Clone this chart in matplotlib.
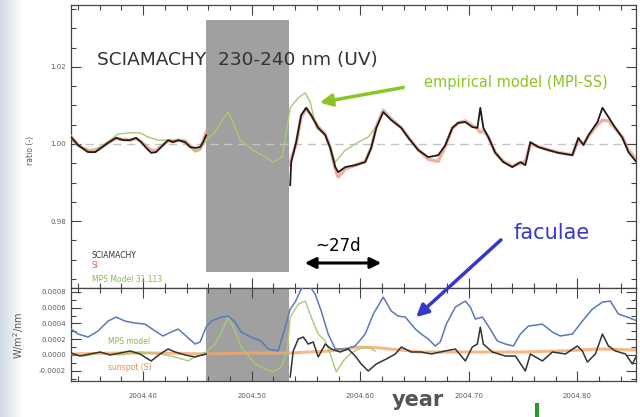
import matplotlib.pyplot as plt
import matplotlib.patches as mpatches
from matplotlib.ticker import MultipleLocator
import numpy as np

# ---- top panel: irradiance ratio ----
t_sci1 = [2004.3336, 2004.3401, 2004.3493, 2004.3558, 2004.3613, 2004.3677, 2004.3751, 2004.3816,
          2004.3880, 2004.3935, 2004.3982, 2004.4028, 2004.4074, 2004.4120, 2004.4166, 2004.4230,
          2004.4277, 2004.4323, 2004.4387, 2004.4433, 2004.4479, 2004.4525, 2004.4553, 2004.4581]
sci1 = [1.0018, 0.9997, 0.9979, 0.9979, 0.9990, 1.0003, 1.0016, 1.0010,
        1.0010, 1.0016, 1.0005, 0.9990, 0.9977, 0.9979, 0.9992, 1.0010,
        1.0005, 1.0010, 1.0005, 0.9992, 0.9990, 0.9992, 1.0005, 1.0023]
si1 = [1.0020, 0.9997, 0.9981, 0.9980, 0.9990, 1.0003, 1.0014, 1.0012,
       1.0010, 1.0014, 1.0006, 0.9994, 0.9984, 0.9983, 0.9994, 1.0008,
       1.0006, 1.0010, 1.0008, 0.9995, 0.9985, 0.9990, 1.0008, 1.0031]

t_sci2 = [2004.5355, 2004.5364, 2004.5410, 2004.5456, 2004.5502, 2004.5548, 2004.5613, 2004.5678,
          2004.5724, 2004.5770, 2004.5797, 2004.5862, 2004.5954, 2004.6046, 2004.6101, 2004.6148,
          2004.6212, 2004.6286, 2004.6378, 2004.6443, 2004.6535, 2004.6627, 2004.6719, 2004.6784,
          2004.6848, 2004.6903, 2004.6968, 2004.7032, 2004.7079, 2004.7106, 2004.7134, 2004.7180,
          2004.7244, 2004.7318, 2004.7401, 2004.7475, 2004.7521, 2004.7567, 2004.7641, 2004.7733,
          2004.7825, 2004.7954, 2004.8009, 2004.8056, 2004.8102, 2004.8185, 2004.8231, 2004.8286,
          2004.8350, 2004.8415, 2004.8470, 2004.8544]
sci2 = [0.9893, 0.9953, 1.0005, 1.0075, 1.0094, 1.0075, 1.0042, 1.0023,
        0.9990, 0.9940, 0.9927, 0.9940, 0.9945, 0.9953, 0.9990, 1.0042,
        1.0083, 1.0062, 1.0042, 1.0016, 0.9984, 0.9966, 0.9971, 0.9997,
        1.0042, 1.0055, 1.0057, 1.0044, 1.0042, 1.0094, 1.0042, 1.0018,
        0.9977, 0.9953, 0.9940, 0.9953, 0.9945, 1.0005, 0.9992, 0.9984,
        0.9977, 0.9971, 1.0016, 0.9997, 1.0023, 1.0057, 1.0094, 1.0070,
        1.0042, 1.0016, 0.9979, 0.9953]
si2 = [0.9945, 0.9960, 1.0000, 1.0070, 1.0092, 1.0075, 1.0045, 1.0025,
       0.9990, 0.9935, 0.9914, 0.9935, 0.9945, 0.9955, 0.9990, 1.0045,
       1.0088, 1.0065, 1.0042, 1.0018, 0.9985, 0.9960, 0.9955, 0.9995,
       1.0040, 1.0055, 1.0060, 1.0048, 1.0040, 1.0030, 1.0035, 1.0018,
       0.9978, 0.9955, 0.9942, 0.9950, 0.9955, 1.0000, 0.9993, 0.9985,
       0.9978, 0.9972, 1.0010, 1.0000, 1.0020, 1.0050, 1.0062, 1.0060,
       1.0040, 1.0018, 0.9985, 0.9960]

t_mps = [2004.3336, 2004.3419, 2004.3512, 2004.3604, 2004.3696, 2004.3770, 2004.3880, 2004.3972,
         2004.4046, 2004.4138, 2004.4230, 2004.4323, 2004.4415, 2004.4479, 2004.4525, 2004.4581,
         2004.4664, 2004.4728, 2004.4783, 2004.4839, 2004.4894, 2004.5014, 2004.5106, 2004.5198,
         2004.5281, 2004.5327, 2004.5355, 2004.5429, 2004.5493, 2004.5539, 2004.5595, 2004.5678,
         2004.5770, 2004.5862, 2004.5982, 2004.6074, 2004.6138]
mps = [1.0010, 0.9995, 0.9984, 0.9992, 1.0010, 1.0026, 1.0029, 1.0029,
       1.0018, 1.0010, 1.0010, 1.0010, 0.9997, 0.9979, 0.9984, 1.0010,
       1.0031, 1.0062, 1.0083, 1.0049, 1.0010, 0.9984, 0.9969, 0.9953,
       0.9966, 1.0044, 1.0094, 1.0120, 1.0133, 1.0109, 1.0042, 1.0023,
       0.9953, 0.9984, 1.0005, 1.0018, 1.0042]

# ---- bottom panel: contributions (W/m^2/nm) ----
t_fac = [2004.3336, 2004.3401, 2004.3493, 2004.3585, 2004.3677, 2004.3751, 2004.3834, 2004.3926,
         2004.4018, 2004.4111, 2004.4184, 2004.4258, 2004.4323, 2004.4396, 2004.4479, 2004.4525,
         2004.4581, 2004.4627, 2004.4719, 2004.4783, 2004.4848, 2004.4903, 2004.4995, 2004.5088,
         2004.5152, 2004.5244, 2004.5309, 2004.5355, 2004.5401, 2004.5456, 2004.5521, 2004.5585,
         2004.5641, 2004.5705, 2004.5770, 2004.5862, 2004.5954, 2004.6046, 2004.6120, 2004.6212,
         2004.6286, 2004.6350, 2004.6415, 2004.6507, 2004.6562, 2004.6627, 2004.6691, 2004.6737,
         2004.6793, 2004.6876, 2004.6968, 2004.7014, 2004.7060, 2004.7125, 2004.7180, 2004.7263,
         2004.7337, 2004.7410, 2004.7475, 2004.7549, 2004.7678, 2004.7770, 2004.7843, 2004.7954,
         2004.8046, 2004.8138, 2004.8231, 2004.8304, 2004.8378, 2004.8461, 2004.8553]
fac = [3.29, 2.66, 2.28, 3.04, 4.30, 4.81, 4.30, 4.05,
       3.92, 3.04, 2.41, 2.91, 3.29, 2.41, 1.39, 1.65,
       3.54, 4.30, 4.81, 4.94, 4.18, 2.91, 2.28, 1.77,
       0.76, 0.51, 3.54, 5.82, 6.71, 8.36, 8.99, 7.72,
       5.57, 2.66, 0.76, 0.76, 1.14, 2.66, 5.19, 7.34,
       5.57, 4.94, 4.81, 3.29, 2.66, 2.03, 1.14, 1.65,
       3.92, 6.08, 6.84, 6.08, 4.56, 4.81, 3.67, 1.77,
       1.39, 1.14, 2.66, 3.67, 3.92, 2.91, 2.41, 2.66,
       4.30, 5.82, 6.71, 6.84, 5.19, 4.81, 4.30]

t_tot1 = [2004.3336, 2004.3419, 2004.3512, 2004.3604, 2004.3696, 2004.3788, 2004.3880, 2004.3972,
          2004.4074, 2004.4157, 2004.4230, 2004.4295, 2004.4387, 2004.4479, 2004.4581]
tot1 = [0.25, -0.13, 0.13, 0.38, 0.0, 0.25, 0.51, 0.13,
        -0.76, 0.13, 0.76, 0.38, 0.0, -0.25, 0.13]
t_tot2 = [2004.5355, 2004.5383, 2004.5429, 2004.5475, 2004.5521, 2004.5567, 2004.5613, 2004.5678,
          2004.5733, 2004.5816, 2004.5889, 2004.5954, 2004.6009, 2004.6074, 2004.6148, 2004.6240,
          2004.6323, 2004.6378, 2004.6470, 2004.6562, 2004.6655, 2004.6784, 2004.6876, 2004.6968,
          2004.7032, 2004.7079, 2004.7106, 2004.7134, 2004.7217, 2004.7337, 2004.7429, 2004.7521,
          2004.7567, 2004.7678, 2004.7770, 2004.7890, 2004.8000, 2004.8046, 2004.8092, 2004.8166,
          2004.8231, 2004.8286, 2004.8350, 2004.8443, 2004.8507, 2004.8553]
tot2 = [-2.79, 0.51, 2.03, 2.28, 1.39, 1.65, -0.25, 1.39,
        0.76, 0.38, 0.76, -0.13, -1.14, -2.03, -1.14, -0.51,
        0.13, 1.01, 0.38, 0.38, 0.13, 0.51, 0.76, -0.76,
        1.01, 1.39, 3.54, 1.39, 0.38, -0.13, -0.13, -2.03,
        0.13, -0.76, 0.38, 0.13, 1.14, 0.51, -0.89, 0.13,
        2.66, 1.14, 0.51, 0.13, -1.14, 0.13]

t_mpsb = [2004.3336, 2004.3465, 2004.3604, 2004.3788, 2004.3972, 2004.4157, 2004.4295, 2004.4415,
          2004.4507, 2004.4581, 2004.4664, 2004.4728, 2004.4783, 2004.4839, 2004.4903, 2004.5032,
          2004.5124, 2004.5198, 2004.5272, 2004.5327, 2004.5355, 2004.5429, 2004.5493, 2004.5548,
          2004.5613, 2004.5678, 2004.5724, 2004.5779, 2004.5843, 2004.5908, 2004.5982, 2004.6074,
          2004.6138]
mpsb = [0.13, -0.13, 0.25, 0.0, 0.38, 0.13, -0.25, -0.76,
        0.0, 0.38, 1.39, 3.04, 4.81, 3.29, 1.01, -1.14,
        -1.77, -2.15, -1.52, 0.38, 4.81, 6.46, 6.84, 4.81,
        2.66, 1.77, 0.13, -2.15, -0.76, 0.13, 0.76, 1.01,
        0.51]

t_spot = [2004.3336, 2004.3788, 2004.4157, 2004.4581, 2004.4986, 2004.5355, 2004.5724, 2004.6000,
          2004.6184, 2004.6553, 2004.7014, 2004.7475, 2004.7843, 2004.8212, 2004.8553]
spot = [0.13, 0.25, 0.25, 0.13, 0.25, 0.25, 0.51, 1.01,
        0.89, 0.38, 0.38, 0.38, 0.51, 0.76, 0.63]

gap = (2004.458, 2004.5346)
xlim = (2004.3336, 2004.854)

C_BLK, C_RED, C_GRN = '#1c1c1c', '#ec9482', '#a9ca70'
C_BLU, C_ORG, C_GRY = '#5a78ba', '#f3a76c', '#a0a0a0'
TXT = '#5a5a5a'

W, H = 640, 417


def fxy(px, py):
    return (px / W, 1 - py / H)


fig = plt.figure(figsize=(6.4, 4.17), dpi=100)
fig.patch.set_facecolor('white')

# slide background strip on the left
bg = fig.add_axes([0, 0, 22 / W, 1])
bg.imshow(np.linspace(0, 1, 50)[None, :], cmap=plt.matplotlib.colors.LinearSegmentedColormap.from_list(
    'bg', ['#cfd8e2', '#ffffff']), aspect='auto', extent=(0, 1, 0, 1))
bg.axis('off')

ax1 = fig.add_axes([71 / W, 1 - 288 / H, 565 / W, 283 / H])
ax2 = fig.add_axes([71 / W, 1 - 381 / H, 565 / W, 93 / H])

for ax in (ax1, ax2):
    ax.set_xlim(*xlim)
    ax.xaxis.set_major_locator(MultipleLocator(0.1))
    ax.xaxis.set_minor_locator(MultipleLocator(0.02))
    ax.tick_params(which='both', direction='in', top=True, right=True,
                   labelsize=5, labelcolor=TXT, color='#444444', width=0.8)
    ax.tick_params(which='major', length=7)
    ax.tick_params(which='minor', length=3.5)
    for s in ax.spines.values():
        s.set_color('#444444')
        s.set_linewidth(0.9)

# top panel
ax1.set_ylim(0.9626, 1.0361)
ax1.yaxis.set_major_locator(MultipleLocator(0.02))
ax1.yaxis.set_minor_locator(MultipleLocator(0.005))
ax1.yaxis.set_major_formatter(plt.FuncFormatter(lambda v, p: f'{v:.2f}'))
ax1.tick_params(labelbottom=False)
ax1.add_patch(mpatches.Rectangle((gap[0], 0.9668), gap[1] - gap[0], 1.0322 - 0.9668,
                                 color=C_GRY, zorder=1, lw=0))
ax1.axhline(1.0, color='#c4c4c4', lw=1.0, ls=(0, (6, 4)), zorder=1.5)
ax1.plot(t_mps, mps, color=C_GRN, lw=1.0, zorder=2)
ax1.plot(t_sci1, si1, color=C_RED, lw=2.4, alpha=0.75, zorder=3)
ax1.plot(t_sci2, si2, color=C_RED, lw=2.4, alpha=0.75, zorder=3)
ax1.plot(t_sci1, sci1, color=C_BLK, lw=1.3, zorder=4)
ax1.plot(t_sci2, sci2, color=C_BLK, lw=1.3, zorder=4)

# bottom panel
ax2.set_ylim(-0.00033, 0.00085)
ax2.yaxis.set_major_locator(MultipleLocator(0.0002))
ax2.yaxis.set_minor_locator(MultipleLocator(0.0001))
ax2.yaxis.set_major_formatter(plt.FuncFormatter(lambda v, p: f'{v:.4f}'))
ax2.xaxis.set_major_formatter(plt.FuncFormatter(lambda v, p: f'{v:.2f}'))
ax2.tick_params(axis='x', pad=9)
ax2.axvspan(gap[0], gap[1], color=C_GRY, lw=0, zorder=1)
s = 1e-4
ax2.plot(t_spot, np.array(spot) * s, color=C_ORG, lw=2.2, alpha=0.8, zorder=2)
ax2.plot(t_mpsb, np.array(mpsb) * s, color=C_GRN, lw=1.0, zorder=3)
ax2.plot(t_fac, np.array(fac) * s, color=C_BLU, lw=1.1, zorder=3)
ax2.plot(t_tot1, np.array(tot1) * s, color='#333333', lw=1.1, zorder=4)
ax2.plot(t_tot2, np.array(tot2) * s, color='#333333', lw=1.1, zorder=4)

# texts
fig.text(*fxy(97, 60), 'SCIAMACHY  230-240 nm (UV)', fontsize=13.3, color='#333333', va='center')
fig.text(*fxy(424, 83), 'empirical model (MPI-SS)', fontsize=10.5, color='#8cc425', va='center')
fig.text(*fxy(514, 233), 'faculae', fontsize=15, color='#3636c8', va='center')
fig.text(*fxy(338, 246), '~27d', fontsize=12, color='black', va='center', ha='center')

fig.text(*fxy(92, 256), 'SCIAMACHY', fontsize=5.5, color='#333333', va='center')
fig.text(*fxy(92, 266), 'SI', fontsize=5.5, color='#e06a50', va='center')
fig.text(*fxy(92, 279), 'MPS Model 31.113', fontsize=5.5, color='#8ab84a', va='center')
fig.text(*fxy(108, 342), 'MPS model', fontsize=5.5, color='#8ab84a', va='center')
fig.text(*fxy(108, 367), 'sunspot (S)', fontsize=5.5, color='#f08a40', va='center')

fig.text(*fxy(31, 150), 'ratio (-)', fontsize=5.5, color=TXT, rotation=90, ha='center', va='center')
fig.text(*fxy(19, 335), 'W/m$^2$/nm', fontsize=7, color=TXT, rotation=90, ha='center', va='center')
fig.text(*fxy(418, 400), 'year', fontsize=15, color='#555555', fontweight='bold', ha='center', va='center')

# arrows drawn at figure level so they sit above both panels
arrows = [
    (fxy(406, 87), fxy(317, 103), '-|>', '#8cc425', 2.5, 18),
    (fxy(503, 238), fxy(414, 319), '-|>', '#3636c8', 2.5, 18),
    (fxy(302, 263), fxy(384, 263), '<|-|>', 'black', 2.2, 16),
]
for a, b, style, col, lw, ms in arrows:
    fig.add_artist(mpatches.FancyArrowPatch(a, b, transform=fig.transFigure, arrowstyle=style,
                                            color=col, lw=lw, mutation_scale=ms, zorder=5))

fig.add_artist(mpatches.Rectangle((535 / W, 0), 4 / W, 14 / H, transform=fig.transFigure,
                                  color='#2a9a2a', lw=0))

fig.savefig('out.png', dpi=100)
